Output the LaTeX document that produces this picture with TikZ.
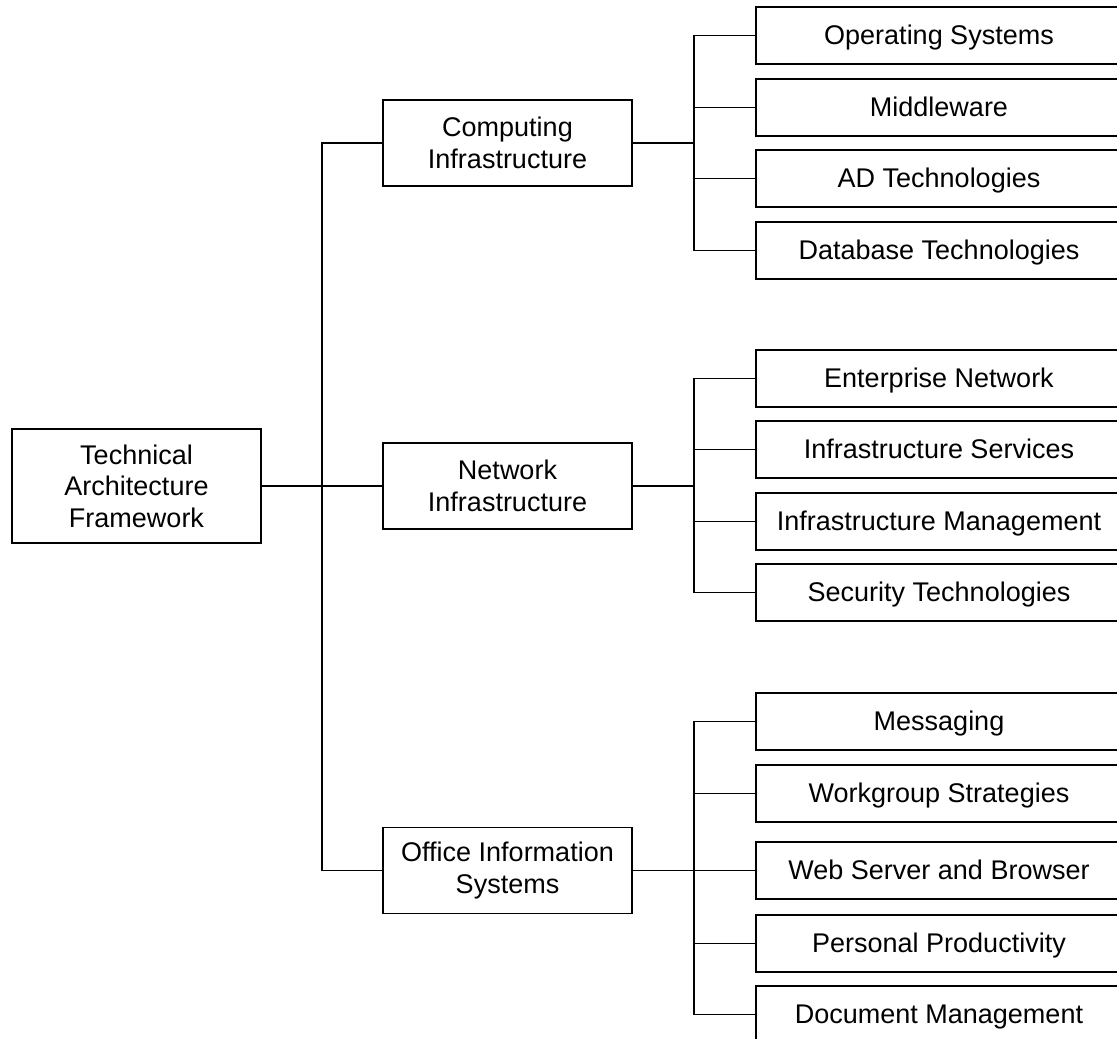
\documentclass[tikz,border=0pt]{standalone}
\usepackage{fontspec}
\setmainfont{Liberation Sans}
\begin{document}
\begin{tikzpicture}[x=1pt,y=-1pt,
  base/.style={draw, line width=1.8pt, rectangle, align=center, inner sep=0pt,
    font=\fontsize{27}{31.5}\selectfont},
  rootbox/.style={base, minimum width=249pt, minimum height=114pt},
  areabox/.style={base, minimum width=249pt, minimum height=86pt},
  leafbox/.style={base, minimum width=366pt, minimum height=57pt, text depth=1pt},
  link/.style={line width=1.8pt, line join=miter}]
\useasboundingbox (0,0) rectangle (1117,1039);
\fill[white] (0,0) rectangle (1117,1039);
\clip (0,0) rectangle (1117,1039);

% root
\node[rootbox] (root) at (136.5,486) {Technical\\Architecture\\Framework};

% second level
\node[areabox] (ci) at (507.5,143) {Computing\\Infrastructure};
\node[areabox] (ni) at (507.5,486) {Network\\Infrastructure};
\node[areabox] (oi) at (507.5,870.5) {Office Information\\Systems};

% computing leaves
\node[leafbox] (c1) at (939,35.5) {Operating Systems};
\node[leafbox] (c2) at (939,107.5) {Middleware};
\node[leafbox] (c3) at (939,178.5) {AD Technologies};
\node[leafbox] (c4) at (939,250.5) {Database Technologies};

% network leaves
\node[leafbox] (n1) at (939,378.5) {Enterprise Network};
\node[leafbox] (n2) at (939,449.5) {Infrastructure Services};
\node[leafbox] (n3) at (939,521.5) {Infrastructure Management};
\node[leafbox] (n4) at (939,592.5) {Security Technologies};

% office leaves
\node[leafbox] (o1) at (939,721.5) {Messaging};
\node[leafbox] (o2) at (939,793.5) {Workgroup Strategies};
\node[leafbox] (o3) at (939,870.5) {Web Server and Browser};
\node[leafbox] (o4) at (939,943.5) {Personal Productivity};
\node[leafbox] (o5) at (939,1014.5) {Document Management};

% junction points
\coordinate (trunk) at (322,486);
\coordinate (cb) at (694,143);
\coordinate (nb) at (694,486);
\coordinate (ob) at (694,870.5);

% root to second level
\draw[link] (root.east) -- (ni.west);
\draw[link] (ci.west) -| (trunk) |- (oi.west);

% computing branch
\draw[link] (ci.east) -- (cb);
\draw[link] (c1.west) -| (cb) |- (c4.west);
\draw[link] (c2.west) -- (c2.west -| cb);
\draw[link] (c3.west) -- (c3.west -| cb);

% network branch
\draw[link] (ni.east) -- (nb);
\draw[link] (n1.west) -| (nb) |- (n4.west);
\draw[link] (n2.west) -- (n2.west -| nb);
\draw[link] (n3.west) -- (n3.west -| nb);

% office branch
\draw[link] (oi.east) -- (ob);
\draw[link] (o1.west) -| (ob) |- (o5.west);
\draw[link] (o2.west) -- (o2.west -| ob);
\draw[link] (o3.west) -- (o3.west -| ob);
\draw[link] (o4.west) -- (o4.west -| ob);
\end{tikzpicture}
\end{document}
